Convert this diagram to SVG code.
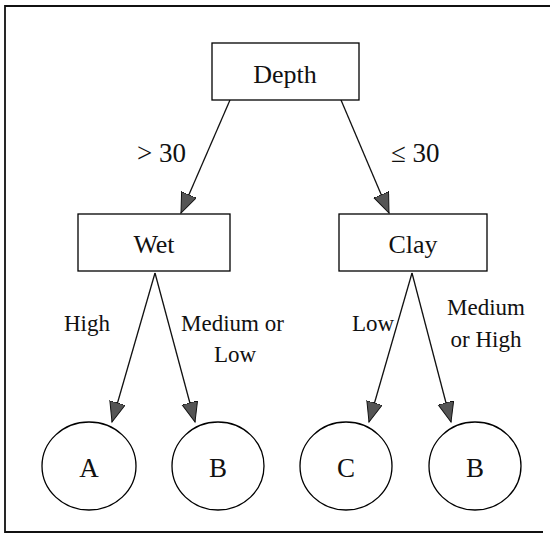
<svg xmlns="http://www.w3.org/2000/svg" width="550" height="534" viewBox="0 0 550 534">
<style>
.box{fill:#fff;stroke:#000;stroke-width:1.3}
.leaf{fill:#fff;stroke:#000;stroke-width:1.3}
.t{font-family:"Liberation Serif","Times New Roman",serif;fill:#111}
.n{font-size:26px;text-anchor:middle}
.l{font-size:27px;text-anchor:middle}
.e{font-size:23px}
.c{fill:none;stroke:#111;stroke-width:1.3}
.frame{fill:none;stroke:#111;stroke-width:1.8}
</style>
<defs>
<marker id="ah" markerUnits="userSpaceOnUse" markerWidth="22" markerHeight="18" refX="20" refY="8" orient="auto">
<path d="M0,0 L20,8 L0,16 Z" fill="#555" stroke="#111" stroke-width="1"/>
</marker>
</defs>
<path class="frame" d="M550,6 H5 V532 H543"/>
<g id="connectors">
<line class="c" x1="230" y1="100" x2="181" y2="213" marker-end="url(#ah)"/>
<line class="c" x1="341" y1="100" x2="389" y2="213" marker-end="url(#ah)"/>
<line class="c" x1="155" y1="273" x2="112" y2="422" marker-end="url(#ah)"/>
<line class="c" x1="155" y1="273" x2="195" y2="422" marker-end="url(#ah)"/>
<line class="c" x1="412" y1="273" x2="369" y2="422" marker-end="url(#ah)"/>
<line class="c" x1="412" y1="273" x2="451" y2="422" marker-end="url(#ah)"/>
<text class="t" font-size="27" x="137" y="162">&gt; 30</text>
<text class="t" font-size="27" x="391" y="162">≤ 30</text>
<text class="t e" x="64" y="331">High</text>
<text class="t e" x="181" y="331">Medium or</text>
<text class="t e" x="235" y="362" text-anchor="middle">Low</text>
<text class="t e" x="352" y="331">Low</text>
<text class="t e" x="486" y="315" text-anchor="middle">Medium</text>
<text class="t e" x="486" y="347" text-anchor="middle">or High</text>
</g>
<g id="depth">
<rect class="box" x="212" y="43" width="147" height="57"/>
<text class="t n" x="285" y="83">Depth</text>
</g>
<g id="wet">
<rect class="box" x="78" y="214" width="152" height="57"/>
<text class="t n" x="154" y="253">Wet</text>
</g>
<g id="clay">
<rect class="box" x="339" y="214" width="148" height="57"/>
<text class="t n" x="413" y="253">Clay</text>
</g>
<g id="leafA">
<ellipse class="leaf" cx="89" cy="466" rx="47" ry="44"/>
<text class="t l" x="89" y="477">A</text>
</g>
<g id="leafB1">
<ellipse class="leaf" cx="218" cy="466" rx="46" ry="44"/>
<text class="t l" x="218" y="477">B</text>
</g>
<g id="leafC">
<ellipse class="leaf" cx="346" cy="466" rx="46" ry="44"/>
<text class="t l" x="346" y="477">C</text>
</g>
<g id="leafB2">
<ellipse class="leaf" cx="475" cy="466" rx="46" ry="44"/>
<text class="t l" x="475" y="477">B</text>
</g>
</svg>
